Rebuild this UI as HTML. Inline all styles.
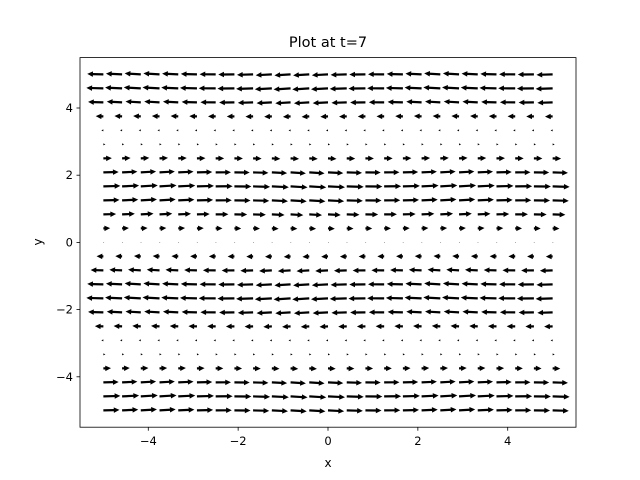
<!DOCTYPE html>
<html><head><meta charset="utf-8"><style>
body{margin:0;background:#fff;}
svg{display:block;font-family:"DejaVu Sans","Liberation Sans",sans-serif;}
</style></head><body>
<svg id="chart" width="640" height="480" viewBox="0 0 640 480">
<rect width="640" height="480" fill="#fff"/>
<text x="328" y="47" font-size="14.5" text-anchor="middle">Plot at t=7</text>
<g id="arrows"></g>
<g id="axes"></g>
<rect x="80" y="57.6" width="496" height="369.6" fill="none" stroke="#000" stroke-width="0.8"/>
<text x="328" y="467" font-size="12" text-anchor="middle">x</text>
<text x="0" y="0" font-size="12" text-anchor="middle" transform="translate(42,242) rotate(-90)">y</text>
</svg>
<script>
const xs = [-5,-4.583,-4.167,-3.75,-3.333,-2.917,-2.5,-2.083,-1.667,-1.25,-0.833,-0.417,0,0.417,0.833,1.25,1.667,2.083,2.5,2.917,3.333,3.75,4.167,4.583,5];
const ys = [-5,-4.583,-4.167,-3.75,-3.333,-2.917,-2.5,-2.083,-1.667,-1.25,-0.833,-0.417,0,0.417,0.833,1.25,1.667,2.083,2.5,2.917,3.333,3.75,4.167,4.583,5];
const uRow = [0.95,1,0.9,0.45,0.12,-0.12,-0.5,-0.9,-1,-0.95,-0.75,-0.4,0.05,0.4,0.75,0.95,1,0.9,0.5,0.12,-0.12,-0.45,-0.9,-1,-0.95];
const vCol = [0.03,0.05,0.06,0.06,0.05,0.03,0.01,-0.01,-0.03,-0.05,-0.06,-0.06,-0.05,-0.03,-0.01,0.01,0.03,0.05,0.06,0.06,0.05,0.03,0.01,-0.01,-0.03];
const xTicks = [-4,-2,0,2,4];
const yTicks = [-4,-2,0,2,4];
const xTickLabels = ["\u22124","\u22122","0","2","4"];
const yTickLabels = ["\u22124","\u22122","0","2","4"];
const X0=80,X1=576,Y0=57.6,Y1=427.2,xmin=-5.52,xmax=5.52,ymin=-5.5,ymax=5.5;
const sx=v=>X0+(v-xmin)/(xmax-xmin)*(X1-X0);
const sy=v=>Y1-(v-ymin)/(ymax-ymin)*(Y1-Y0);
const NS="http://www.w3.org/2000/svg";
const scale=17, w=2.2;
const ag=document.getElementById('arrows');
ys.forEach((y,i)=>{xs.forEach((x,j)=>{
  const u=uRow[i], v=vCol[j]*Math.abs(u);
  const L=Math.hypot(u,v)*scale; if(L<0.3) return;
  const ang=Math.atan2(-v,u);
  let hl=w*2.6, hw=w*1.25, sw=w/2;
  if(L<hl){const k=L/hl;hl*=k;hw*=k;sw*=k;}
  const pts=[[0,-sw],[L-hl,-sw],[L-hl,-hw],[L,0],[L-hl,hw],[L-hl,sw],[0,sw]];
  const c=Math.cos(ang),s=Math.sin(ang),tx=sx(x),ty=sy(y);
  const p=document.createElementNS(NS,'polygon');
  p.setAttribute('points',pts.map(q=>(tx+q[0]*c-q[1]*s).toFixed(2)+','+(ty+q[0]*s+q[1]*c).toFixed(2)).join(' '));
  p.setAttribute('fill','#000');
  
  
  ag.appendChild(p);
});});
const ax=document.getElementById('axes');
function add(tag,attrs,txt){const e=document.createElementNS(NS,tag);for(const k in attrs)e.setAttribute(k,attrs[k]);if(txt!==undefined)e.textContent=txt;ax.appendChild(e);return e;}
xTicks.forEach((t,i)=>{
  const l=add('line',{x1:sx(t),x2:sx(t),y1:Y1,y2:Y1+3.5,stroke:'#000','stroke-width':0.8});
  
  
  const tx=add('text',{x:sx(t),y:Y1+18,'font-size':11.5,'text-anchor':'middle'},xTickLabels[i]);
  
  
});
yTicks.forEach((t,i)=>{
  const l=add('line',{x1:X0-3.5,x2:X0,y1:sy(t),y2:sy(t),stroke:'#000','stroke-width':0.8});
  
  
  const tx=add('text',{x:X0-7,y:sy(t)+4,'font-size':11.5,'text-anchor':'end'},yTickLabels[i]);
  
  
});
</script>
</body></html>
